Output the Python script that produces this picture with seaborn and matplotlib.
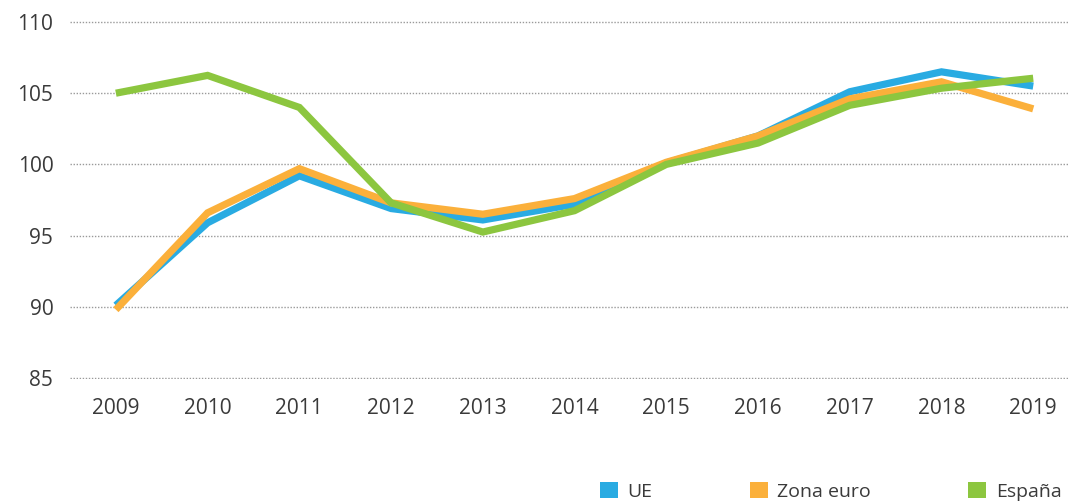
import matplotlib
matplotlib.use("Agg")
import matplotlib.pyplot as plt
from matplotlib.patches import Patch
import seaborn as sns
import pandas as pd

years = list(range(2009, 2020))
ue = [90.1, 95.9, 99.2, 96.9, 96.1, 97.2, 100.1, 102.0, 105.1, 106.5, 105.5]
zona_euro = [89.8, 96.6, 99.7, 97.3, 96.5, 97.6, 100.15, 102.0, 104.6, 105.8, 103.9]
espana = [105.0, 106.25, 104.0, 97.3, 95.25, 96.75, 100.0, 101.5, 104.15, 105.35, 106.05]
series_names = ["UE", "Zona euro", "España"]
colors = ["#29ABE2", "#FBB03B", "#8CC63F"]
y_ticks = [85, 90, 95, 100, 105, 110]

df = pd.DataFrame({
    "año": years * 3,
    "valor": ue + zona_euro + espana,
    "serie": [s for s in series_names for _ in years],
})

sns.set_theme(style="white")
plt.rcParams["font.family"] = ["Open Sans", "DejaVu Sans"]

fig = plt.figure(figsize=(10.69, 5.01), dpi=100)
ax = fig.add_axes([70 / 1069, 1 - 379 / 501, 1 - 70 / 1069, (379 - 21) / 501])

sns.lineplot(data=df, x="año", y="valor", hue="serie", hue_order=series_names,
             palette=colors, linewidth=5.2, ax=ax, legend=False,
             solid_capstyle="butt", solid_joinstyle="miter")

ax.set_xlim(2008.5, 2019.39)
ax.set_ylim(84.93, 110.07)
ax.set_yticks(y_ticks)
ax.set_xticks(years)
ax.set_xticklabels([str(y) for y in years])
ax.set_xlabel("")
ax.set_ylabel("")
ax.yaxis.grid(True, linestyle=(0, (1, 1.2)), color="#9a9a9a", linewidth=1.0)
ax.set_axisbelow(True)
for s in ax.spines.values():
    s.set_visible(False)
ax.tick_params(axis="both", length=0, labelsize=15, labelcolor="#3a3a3a")
ax.tick_params(axis="y", pad=12)
ax.tick_params(axis="x", pad=14)

handles = [Patch(facecolor=c, edgecolor="none") for c in colors]
fig.legend(handles, series_names, loc="upper left",
           bbox_to_anchor=(600 / 1069, 1 - 482 / 501), ncol=3, frameon=False,
           fontsize=14, labelcolor="#3a3a3a", handlelength=0.92, handleheight=0.92,
           handletextpad=0.5, columnspacing=5.0, borderaxespad=0, borderpad=0)

fig.savefig("out.png", dpi=100, facecolor="white")
